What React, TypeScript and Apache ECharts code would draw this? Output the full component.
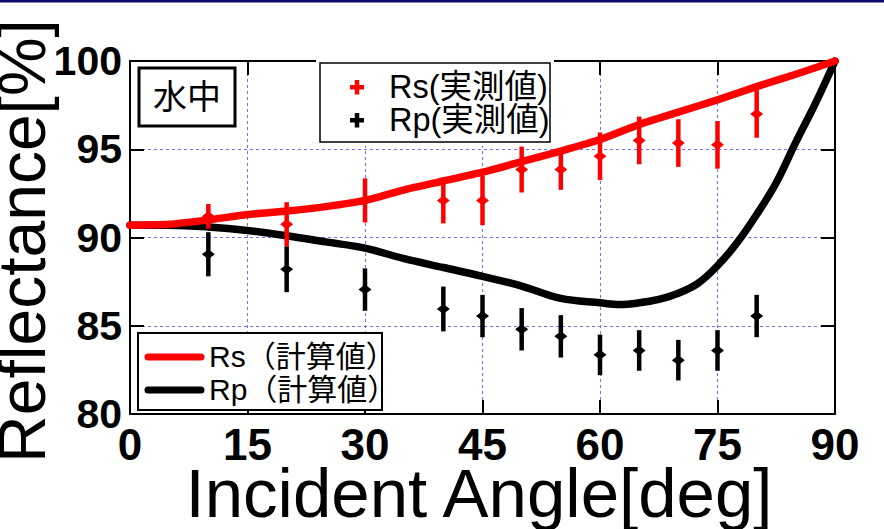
import React, { useEffect, useRef } from "react";
import * as echarts from "echarts";

// ---- data ----
const xTicks = [0, 15, 30, 45, 60, 75, 90];
const yTicks = [80, 85, 90, 95, 100];

const rsCalcAngles = [0, 5, 10, 15, 20, 25, 30, 35, 40, 45, 50, 55, 60, 65, 70, 75, 80, 85, 90];
const rsCalc = [90.7, 90.75, 91.0, 91.3, 91.5, 91.75, 92.1, 92.7, 93.2, 93.7, 94.3, 94.9, 95.55, 96.4, 97.1, 97.8, 98.55, 99.25, 100];

const rpCalcAngles = [0, 5, 10, 15, 20, 25, 30, 35, 40, 45, 50, 55, 60, 62.5, 65, 67.5, 70, 72.5, 75, 77.5, 80, 82.5, 85, 87.5, 90];
const rpCalc = [90.7, 90.7, 90.6, 90.4, 90.1, 89.75, 89.4, 88.8, 88.3, 87.8, 87.25, 86.55, 86.3, 86.2, 86.3, 86.5, 86.84, 87.4, 88.4, 89.7, 91.3, 93.1, 95.4, 97.6, 100];

const measAngles = [10, 20, 30, 40, 45, 50, 55, 60, 65, 70, 75, 80];
const rsMeas = [91.2, 90.75, 92.1, 92.1, 92.1, 93.85, 93.85, 94.6, 95.5, 95.35, 95.25, 97.0];
const rsErr = [0.7, 1.25, 1.25, 1.3, 1.4, 1.3, 1.15, 1.35, 1.35, 1.35, 1.35, 1.35];
const rpMeas = [89.05, 88.2, 87.05, 85.95, 85.55, 84.8, 84.4, 83.35, 83.6, 83.05, 83.6, 85.55];
const rpErr = [1.25, 1.3, 1.2, 1.27, 1.2, 1.2, 1.2, 1.15, 1.15, 1.15, 1.15, 1.2];

const legendMeas = ["Rs(実測値)", "Rp(実測値)"];
const legendCalc = ["Rs（計算値）", "Rp（計算値）"];
const boxLabel = "水中";
const xTitle = "Incident Angle[deg]";
const yTitle = "Reflectance[%]";

const FONT = "'Liberation Sans', 'Noto Sans CJK JP', sans-serif";
const NARROW = "'Liberation Sans Narrow', 'Liberation Sans', sans-serif";
const RED = "#ff0000";
const BLACK = "#000000";

function errSeries(name: string, xs: number[], ys: number[], es: number[], color: string) {
  return {
    name,
    type: "custom",
    xAxisIndex: 0,
    yAxisIndex: 0,
    z: 5,
    data: xs.map((x, i) => [x, ys[i], es[i]]),
    encode: { x: 0, y: 1 },
    renderItem: (params: any, api: any) => {
      const x = api.value(0);
      const y = api.value(1);
      const e = api.value(2);
      const top = api.coord([x, y + e]);
      const bot = api.coord([x, y - e]);
      const c = api.coord([x, y]);
      return {
        type: "group",
        children: [
          {
            type: "line",
            shape: { x1: top[0], y1: top[1], x2: bot[0], y2: bot[1] },
            style: { stroke: color, lineWidth: 4.5 },
          },
          {
            type: "polygon",
            shape: {
              points: [
                [c[0] - 6.5, c[1]],
                [c[0], c[1] - 5],
                [c[0] + 6.5, c[1]],
                [c[0], c[1] + 5],
              ],
            },
            style: { fill: color },
          },
        ],
      };
    },
  };
}

export default function App() {
  const ref = useRef<HTMLDivElement>(null);
  useEffect(() => {
    if (!ref.current) return;
    const chart = echarts.init(ref.current, null, { renderer: "svg" });
    const axisLine = { show: true, onZero: false, lineStyle: { color: "#000", width: 2 } };
    const axisTick = { show: true, inside: true, length: 14, lineStyle: { color: "#000", width: 2 } };
    const splitLine = { show: true, lineStyle: { color: "#6f6fff", type: [3, 3], width: 1 } };
    const option: any = {
      animation: false,
      backgroundColor: "#ffffff",
      grid: { left: 130, right: 49, top: 61, bottom: 115 },
      xAxis: [
        {
          type: "value",
          min: xTicks[0],
          max: xTicks[xTicks.length - 1],
          interval: 15,
          position: "bottom",
          axisLine,
          axisTick,
          splitLine,
          axisLabel: {
            fontFamily: NARROW,
            fontSize: 44,
            fontWeight: "bold",
            color: "#000",
            margin: 8,
            showMinLabel: true,
            showMaxLabel: true,
          },
        },
        {
          type: "value",
          min: xTicks[0],
          max: xTicks[xTicks.length - 1],
          interval: 15,
          position: "top",
          axisLine,
          axisTick,
          splitLine: { show: false },
          axisLabel: { show: false },
        },
      ],
      yAxis: [
        {
          type: "value",
          min: yTicks[0],
          max: yTicks[yTicks.length - 1],
          interval: 5,
          position: "left",
          axisLine,
          axisTick,
          splitLine,
          axisLabel: {
            fontFamily: FONT,
            fontSize: 41,
            fontWeight: "bold",
            color: "#000",
            margin: 8,
            showMinLabel: true,
            showMaxLabel: true,
          },
        },
        {
          type: "value",
          min: yTicks[0],
          max: yTicks[yTicks.length - 1],
          interval: 5,
          position: "right",
          axisLine,
          axisTick,
          splitLine: { show: false },
          axisLabel: { show: false },
        },
      ],
      series: [
        {
          name: "Rp calc",
          type: "line",
          xAxisIndex: 0,
          yAxisIndex: 0,
          z: 3,
          symbol: "none",
          smooth: 0.35,
          data: rpCalcAngles.map((a, i) => [a, rpCalc[i]]),
          lineStyle: { color: BLACK, width: 7.5, cap: "round", join: "round" },
        },
        {
          name: "Rs calc",
          type: "line",
          xAxisIndex: 0,
          yAxisIndex: 0,
          z: 4,
          symbol: "none",
          smooth: 0.2,
          data: rsCalcAngles.map((a, i) => [a, rsCalc[i]]),
          lineStyle: { color: RED, width: 7.5, cap: "round", join: "round" },
        },
        errSeries("Rp meas", measAngles, rpMeas, rpErr, BLACK),
        errSeries("Rs meas", measAngles, rsMeas, rsErr, RED),
      ],
      graphic: [
        { type: "rect", z: 100, shape: { x: 0, y: 0, width: 884, height: 2.5 }, style: { fill: "#0b0b6e" } },
        // 水中 box
        {
          type: "rect",
          z: 100,
          shape: { x: 139, y: 68, width: 96, height: 58 },
          style: { fill: "#fff", stroke: "#000", lineWidth: 3 },
        },
        {
          type: "text",
          z: 101,
          x: 187,
          y: 97,
          style: { text: boxLabel, font: `34px ${FONT}`, fill: "#000", align: "center", verticalAlign: "middle" },
        },
        // measured legend box
        { type: "rect", z: 99, shape: { x: 316, y: 56, width: 238, height: 90 }, style: { fill: "#fff" } },
        {
          type: "rect",
          z: 100,
          shape: { x: 320, y: 63, width: 230, height: 79 },
          style: { fill: "#fff", stroke: "#000", lineWidth: 1.5 },
        },
        { type: "rect", z: 101, shape: { x: 350, y: 85, width: 14, height: 4.5 }, style: { fill: RED } },
        { type: "rect", z: 101, shape: { x: 354.75, y: 80, width: 4.5, height: 14.5 }, style: { fill: RED } },
        { type: "rect", z: 101, shape: { x: 350, y: 118, width: 14, height: 4.5 }, style: { fill: BLACK } },
        { type: "rect", z: 101, shape: { x: 354.75, y: 113, width: 4.5, height: 14.5 }, style: { fill: BLACK } },
        {
          type: "text",
          z: 101,
          x: 389,
          y: 87,
          style: { text: legendMeas[0], font: `32.5px ${FONT}`, fill: "#000", align: "left", verticalAlign: "middle" },
        },
        {
          type: "text",
          z: 101,
          x: 389,
          y: 120,
          style: { text: legendMeas[1], font: `32.5px ${FONT}`, fill: "#000", align: "left", verticalAlign: "middle" },
        },
        // calculated legend box
        {
          type: "rect",
          z: 100,
          shape: { x: 138, y: 333, width: 244, height: 77 },
          style: { fill: "#fff", stroke: "#000", lineWidth: 2 },
        },
        {
          type: "line",
          z: 101,
          shape: { x1: 148, y1: 357, x2: 201, y2: 357 },
          style: { stroke: RED, lineWidth: 7, lineCap: "round" },
        },
        {
          type: "line",
          z: 101,
          shape: { x1: 148, y1: 390, x2: 201, y2: 390 },
          style: { stroke: BLACK, lineWidth: 7, lineCap: "round" },
        },
        {
          type: "text",
          z: 101,
          x: 209,
          y: 356,
          style: { text: legendCalc[0], font: `30px ${FONT}`, fill: "#000", align: "left", verticalAlign: "middle" },
        },
        {
          type: "text",
          z: 101,
          x: 209,
          y: 389,
          style: { text: legendCalc[1], font: `30px ${FONT}`, fill: "#000", align: "left", verticalAlign: "middle" },
        },
        // axis titles
        {
          type: "text",
          z: 101,
          x: 479,
          y: 493,
          style: { text: xTitle, font: `69px ${FONT}`, fill: "#000", align: "center", verticalAlign: "middle" },
        },
        {
          type: "text",
          z: 101,
          x: 22,
          y: 241,
          rotation: Math.PI / 2,
          style: { text: yTitle, font: `66px ${FONT}`, fill: "#000", align: "center", verticalAlign: "middle" },
        },
      ],
    };
    chart.setOption(option);
    return () => chart.dispose();
  }, []);
  return (
    <div
      ref={ref}
      style={{ position: "fixed", left: 0, top: 0, width: 884, height: 529, background: "#fff" }}
    />
  );
}
